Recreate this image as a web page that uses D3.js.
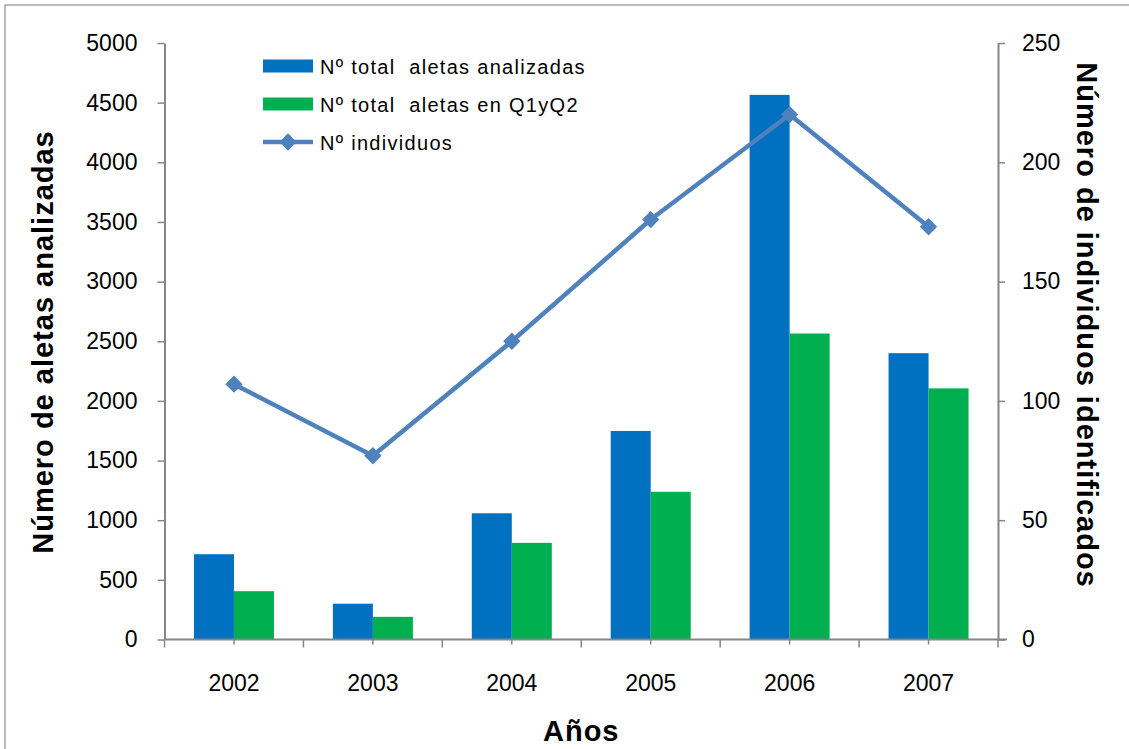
<!DOCTYPE html>
<html>
<head>
<meta charset="utf-8">
<script src="https://cdn.jsdelivr.net/npm/d3@7"></script>
<style>
  html, body { margin: 0; padding: 0; background: #fff; }
  svg { display: block; font-family: "Liberation Sans", Arial, sans-serif; }
</style>
</head>
<body>
<svg id="chart" width="1129" height="749"></svg>
<script>
// Fin photo-identification counts per year
const years = ["2002", "2003", "2004", "2005", "2006", "2007"];
const finsTotal = [715, 300, 1058, 1748, 4565, 2400];      // Nº total aletas analizadas
const finsQ1Q2 = [405, 190, 810, 1238, 2565, 2105];        // Nº total aletas en Q1yQ2
const individuals = [107, 77, 125, 176, 220, 173];         // Nº individuos
const leftTicks = [0, 500, 1000, 1500, 2000, 2500, 3000, 3500, 4000, 4500, 5000];
const rightTicks = [0, 50, 100, 150, 200, 250];
const seriesNames = ["Nº total  aletas analizadas", "Nº total  aletas en Q1yQ2", "Nº individuos"];

const colors = { total: "#0070C0", q: "#00B050", line: "#4F81BD", axis: "#868686" };

const svg = d3.select("#chart");
const plot = { left: 164.5, right: 998, top: 43, bottom: 639.5 };

// outer frame
svg.append("rect")
  .attr("x", 5).attr("y", 5).attr("width", 1140).attr("height", 760)
  .attr("fill", "none").attr("stroke", "#a6a6a6").attr("stroke-width", 1.5);

const xCat = d3.scaleBand().domain(years).range([plot.left, plot.right]).padding(0);
const xGroup = d3.scaleBand().domain(years).range([plot.left, plot.right])
  .paddingInner(0.424).paddingOuter(0.212);
const xSub = d3.scaleBand().domain(["total", "q"]).range([0, xGroup.bandwidth()]);
const yL = d3.scaleLinear().domain([0, 5000]).range([plot.bottom, plot.top]);
const yR = d3.scaleLinear().domain([0, 250]).range([plot.bottom, plot.top]);

// bars
const barData = years.map((y, i) => ({ year: y, total: finsTotal[i], q: finsQ1Q2[i] }));
const groups = svg.append("g").selectAll("g").data(barData).join("g")
  .attr("transform", d => `translate(${xGroup(d.year)},0)`);
groups.selectAll("rect")
  .data(d => ["total", "q"].map(k => ({ key: k, value: d[k] })))
  .join("rect")
  .attr("x", d => xSub(d.key))
  .attr("width", xSub.bandwidth())
  .attr("y", d => yL(d.value))
  .attr("height", d => yL(0) - yL(d.value))
  .attr("fill", d => colors[d.key]);

// left axis
const axL = svg.append("g").attr("transform", `translate(${plot.left},0)`)
  .call(d3.axisLeft(yL).tickValues(leftTicks).tickFormat(d3.format("d"))
    .tickSize(7).tickPadding(20).tickSizeOuter(0));
// right axis
const axR = svg.append("g").attr("transform", `translate(${plot.right},0)`)
  .call(d3.axisRight(yR).tickValues(rightTicks).tickFormat(d3.format("d"))
    .tickSize(7).tickPadding(17).tickSizeOuter(0));
// bottom axis (labels centred, ticks between and at centres)
const axB = svg.append("g").attr("transform", `translate(0,${plot.bottom})`)
  .call(d3.axisBottom(xCat).tickSize(5).tickPadding(30).tickSizeOuter(0));
const boundaries = years.map(y => xCat(y)).concat([plot.right]);
axB.selectAll("line.between").data(boundaries).join("line")
  .attr("class", "between")
  .attr("x1", d => d).attr("x2", d => d).attr("y1", 0).attr("y2", 8)
  .attr("stroke", colors.axis).attr("stroke-width", 1.5);

[axL, axR, axB].forEach(ax => {
  ax.select(".domain").attr("stroke", colors.axis).attr("stroke-width", 2);
  ax.selectAll(".tick line").attr("stroke", colors.axis).attr("stroke-width", 1.5);
  ax.selectAll("text").attr("font-size", 23).attr("fill", "#000")
    .attr("font-family", "Liberation Sans, Arial, sans-serif");
});
axB.select(".domain").attr("d", `M${plot.left},0H${plot.right + 9}`);

// line with diamond markers
const pts = years.map((y, i) => [xCat(y) + xCat.bandwidth() / 2, yR(individuals[i])]);
svg.append("path")
  .attr("d", d3.line()(pts))
  .attr("fill", "none").attr("stroke", colors.line).attr("stroke-width", 4.5)
  .attr("stroke-linejoin", "round");
const diamond = d3.symbol().type(d3.symbolSquare).size(150);
svg.append("g").selectAll("path").data(pts).join("path")
  .attr("d", diamond)
  .attr("transform", d => `translate(${d[0]},${d[1]}) rotate(45)`)
  .attr("fill", colors.line);

// axis titles
svg.append("text")
  .attr("transform", "translate(53,342) rotate(-90)")
  .attr("text-anchor", "middle").attr("font-size", 29).attr("font-weight", "bold")
  .attr("letter-spacing", 1)
  .text("Número de aletas analizadas");
svg.append("text")
  .attr("transform", "translate(1077,325) rotate(90)")
  .attr("text-anchor", "middle").attr("font-size", 29).attr("font-weight", "bold")
  .attr("letter-spacing", 1)
  .text("Número de individuos identificados");
svg.append("text")
  .attr("x", (plot.left + plot.right) / 2).attr("y", 741)
  .attr("text-anchor", "middle").attr("font-size", 29).attr("font-weight", "bold")
  .attr("letter-spacing", 1)
  .text("Años");

// legend
const legend = svg.append("g").attr("transform", "translate(263,66)");
const legRows = legend.selectAll("g").data(seriesNames).join("g")
  .attr("transform", (d, i) => `translate(0,${i * 38})`);
legRows.each(function (d, i) {
  const g = d3.select(this);
  if (i < 2) {
    g.append("rect").attr("x", 0).attr("y", -6.5).attr("width", 50).attr("height", 13)
      .attr("fill", i === 0 ? colors.total : colors.q);
  } else {
    g.append("line").attr("x1", 0).attr("x2", 50).attr("y1", 0).attr("y2", 0)
      .attr("stroke", colors.line).attr("stroke-width", 4.5);
    g.append("path").attr("d", diamond).attr("transform", "translate(25,0) rotate(45)")
      .attr("fill", colors.line);
  }
  g.append("text").attr("x", 57).attr("y", 7.5).attr("font-size", 20)
    .attr("letter-spacing", 1.3).attr("xml:space", "preserve")
    .style("white-space", "pre").text(d);
});
</script>
</body>
</html>
